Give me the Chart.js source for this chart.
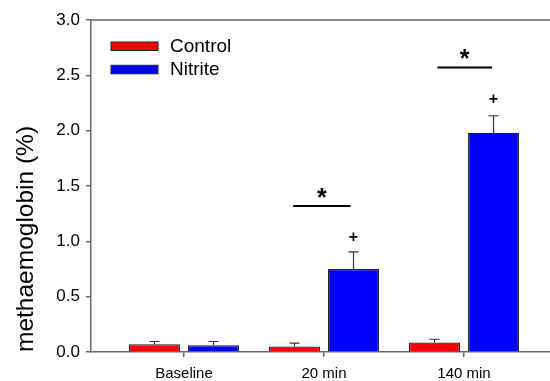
<!DOCTYPE html>
<html>
<head>
<meta charset="utf-8">
<script src="https://cdn.jsdelivr.net/npm/chart.js@4.4.1/dist/chart.umd.min.js"></script>
<style>
  html, body { margin: 0; padding: 0; background: #fff; overflow: hidden; }
  #wrap { width: 550px; height: 381px; }
</style>
</head>
<body>
<div id="wrap"><canvas id="chart" width="550" height="381"></canvas></div>
<script>
// values
const categories = ["Baseline", "20 min", "140 min"];
const controlMean = [0.07, 0.05, 0.085];
const controlErr = [0.025, 0.03, 0.03];
const nitriteMean = [0.06, 0.75, 1.98];
const nitriteErr = [0.035, 0.155, 0.155];
const yTicks = [0, 0.5, 1.0, 1.5, 2.0, 2.5, 3.0];

// significance marks (in data units)
const sigFrom = [0.78, 1.81];
const sigTo = [1.19, 2.2];
const sigLevel = [1.32, 2.57];
const starLevel = [1.43, 2.68];
const plusLevel = [null, 1.03, 2.28];

const errors = [controlErr, nitriteErr];

// error bars, frame top, significance marks and legend
const extras = {
    id: "extras",
    afterDatasetsDraw(chart){
        const ctx = chart.ctx;
        const xs = chart.scales.x;
        const ys = chart.scales.y;
        const area = chart.chartArea;

        // upper error bars
        ctx.save();
        ctx.strokeStyle = "#333";
        ctx.lineWidth = 1.2;
        chart.data.datasets.forEach((ds, d) => {
            const meta = chart.getDatasetMeta(d);
            meta.data.forEach((bar, i) => {
                const top = ys.getPixelForValue(ds.data[i].y);
                const cap = ys.getPixelForValue(ds.data[i].y + errors[d][i]);
                ctx.beginPath();
                ctx.moveTo(bar.x, top);
                ctx.lineTo(bar.x, cap);
                ctx.moveTo(bar.x - 5, cap);
                ctx.lineTo(bar.x + 5, cap);
                ctx.stroke();
            });
        });
        ctx.restore();

        // top frame line
        ctx.save();
        ctx.strokeStyle = "#666";
        ctx.lineWidth = 1.5;
        ctx.beginPath();
        ctx.moveTo(area.left, area.top);
        ctx.lineTo(area.right, area.top);
        ctx.stroke();
        ctx.restore();

        // significance lines and stars
        ctx.save();
        ctx.strokeStyle = "#000";
        ctx.lineWidth = 2;
        ctx.fillStyle = "#000";
        ctx.textAlign = "center";
        ctx.textBaseline = "middle";
        ctx.font = "bold 25px 'Liberation Sans', Arial, sans-serif";
        sigLevel.forEach((lv, k) => {
            const y = ys.getPixelForValue(lv);
            ctx.beginPath();
            ctx.moveTo(xs.getPixelForValue(sigFrom[k]), y);
            ctx.lineTo(xs.getPixelForValue(sigTo[k]), y);
            ctx.stroke();
            const mid = (xs.getPixelForValue(sigFrom[k]) + xs.getPixelForValue(sigTo[k])) / 2;
            ctx.fillText("*", mid, ys.getPixelForValue(starLevel[k]) + 5);
        });

        // plus signs above nitrite bars
        ctx.font = "bold 16px 'Liberation Sans', Arial, sans-serif";
        const blue = chart.getDatasetMeta(1);
        plusLevel.forEach((lv, i) => {
            if(lv == null) return;
            ctx.fillText("+", blue.data[i].x, ys.getPixelForValue(lv));
        });
        ctx.restore();

        // legend inside the plot
        ctx.save();
        ctx.font = "19px 'Liberation Sans', Arial, sans-serif";
        ctx.textAlign = "left";
        ctx.textBaseline = "middle";
        chart.data.datasets.forEach((ds, d) => {
            const top = 42 + d * 23.3;
            ctx.fillStyle = ds.backgroundColor;
            ctx.fillRect(111, top, 47, 8.5);
            ctx.strokeStyle = "#222";
            ctx.lineWidth = 1;
            ctx.strokeRect(111, top, 47, 8.5);
            ctx.fillStyle = "#000";
            ctx.fillText(ds.label, 170, top + 4.5);
        });
        ctx.restore();
    }
};

const ctx = document.getElementById("chart");
new Chart(ctx, {
    type: "bar",
    data: {
        datasets: [{
            label: "Control",
            data: categories.map((c, i) => ({x: i, y: controlMean[i]})),
            backgroundColor: "#ff0000",
            borderColor: "#222",
            borderWidth: 1.2,
            categoryPercentage: 0.843,
            barPercentage: 0.864
        }, {
            label: "Nitrite",
            data: categories.map((c, i) => ({x: i, y: nitriteMean[i]})),
            backgroundColor: "#0000ff",
            borderColor: "#222",
            borderWidth: 1.2,
            categoryPercentage: 0.843,
            barPercentage: 0.864
        }]
    },
    options: {
        responsive: false,
        animation: false,
        layout: { padding: { top: 20, right: 0, left: 0, bottom: 0 } },
        plugins: {
            legend: { display: false },
            tooltip: { enabled: false }
        },
        scales: {
            x: {
                type: "linear",
                min: -0.664,
                max: 2.614,
                offset: false,
                afterBuildTicks: (axis) => { axis.ticks = categories.map((c, i) => ({value: i})); },
                afterFit: (axis) => { axis.height = 29; },
                grid: { offset: false, drawOnChartArea: false, drawTicks: true, tickLength: 5, color: "#666", lineWidth: 1.5 },
                border: { color: "#666", width: 1.5 },
                ticks: {
                    color: "#000",
                    padding: 8,
                    maxRotation: 0,
                    font: { family: "'Liberation Sans', Arial, sans-serif", size: 15 },
                    callback: (v) => categories[v] ?? ""
                }
            },
            y: {
                min: 0,
                max: 3,
                afterBuildTicks: (axis) => { axis.ticks = yTicks.map(v => ({value: v})); },
                afterFit: (axis) => { axis.width = 91; },
                grid: { drawOnChartArea: false, drawTicks: true, tickLength: 5, color: "#666", lineWidth: 1.5 },
                border: { color: "#666", width: 1.5 },
                ticks: {
                    color: "#000",
                    padding: 6,
                    font: { family: "'Liberation Sans', Arial, sans-serif", size: 17 },
                    callback: (v) => v.toFixed(1)
                },
                title: {
                    display: true,
                    text: "methaemoglobin (%)",
                    align: "start",
                    color: "#000",
                    padding: { top: 12, bottom: 0 },
                    font: { family: "'Liberation Sans', Arial, sans-serif", size: 24.5 }
                }
            }
        }
    },
    plugins: [extras]
});
</script>
</body>
</html>
